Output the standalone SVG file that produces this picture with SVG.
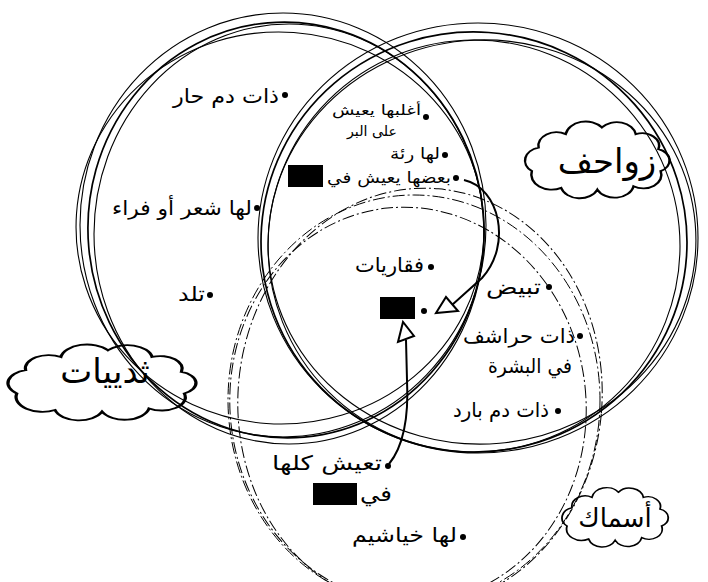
<svg xmlns="http://www.w3.org/2000/svg" width="708" height="582" viewBox="0 0 708 582">
<defs>
<style>
.bg{fill:#fff}
.ring{fill:none;stroke:#000;stroke-width:1.1}
.ring2{fill:none;stroke:#000;stroke-width:1.7}
.fish{fill:none;stroke:#000;stroke-width:1;stroke-dasharray:12 3 2 3}
.cloud{fill:#fff;stroke:#000;stroke-width:2.2;vector-effect:non-scaling-stroke}
.t{font-family:"DejaVu Sans",sans-serif;font-size:20px;fill:#000;text-anchor:end}
.s{font-size:16px}
.xs{font-size:14px}
.big{font-family:"DejaVu Sans",sans-serif;fill:#000;text-anchor:middle}
.dot{fill:#000}
.box{fill:#000}
.conn{fill:none;stroke:#000;stroke-width:2}
.head{fill:#fff;stroke:#000;stroke-width:2;stroke-linejoin:miter}
</style>
<path id="cloudShape" d="M14,62 A16,16 0 0 1 20,34 A16,16 0 0 1 44,18 A18,18 0 0 1 76,10 A17,17 0 0 1 106,18 A15,15 0 0 1 126,36 A14,14 0 0 1 128,62 A16,16 0 0 1 104,80 A17,17 0 0 1 72,84 A17,17 0 0 1 40,82 A18,18 0 0 1 14,62 Z"/>
</defs>
<rect class="bg" x="0" y="0" width="708" height="582"/>

<g id="cloud-mammals">
<use href="#cloudShape" class="cloud" transform="translate(-3.8,342) scale(1.47,0.83)"/>
</g>
<g id="cloud-reptiles">
<use href="#cloudShape" class="cloud" transform="translate(516,119) scale(1.13,0.84)"/>
</g>
<g id="cloud-fish">
<use href="#cloudShape" class="cloud" transform="translate(555.4,485.7) scale(0.83,0.65)"/>
</g>

<g id="set-mammals">
<ellipse class="ring" cx="283" cy="225" rx="203" ry="212"/>
<ellipse class="ring2" cx="286" cy="230" rx="198" ry="208" transform="rotate(-5 286 230)"/>
<ellipse class="ring" cx="280" cy="228" rx="204" ry="196" transform="rotate(4 280 228)"/>
<ellipse class="ring" cx="289" cy="234" rx="195" ry="210"/>
</g>
<g id="set-reptiles">
<ellipse class="ring" cx="478" cy="238" rx="220" ry="215"/>
<ellipse class="ring2" cx="474" cy="242" rx="213" ry="210" transform="rotate(4 474 242)"/>
<ellipse class="ring" cx="482" cy="242" rx="214" ry="202" transform="rotate(-5 482 242)"/>
<ellipse class="ring" cx="474" cy="246" rx="206" ry="206"/>
</g>
<g id="set-fish">
<ellipse class="fish" cx="414" cy="400" rx="186" ry="205"/>
<ellipse class="fish" cx="408" cy="405" rx="178" ry="198" transform="rotate(-6 408 405)"/>
<ellipse class="fish" cx="420" cy="398" rx="182" ry="210" transform="rotate(5 420 398)"/>
</g>

<g id="label-mammals"><text class="big" x="105" y="383" font-size="34">ثدييات</text></g>
<g id="label-reptiles"><text class="big" x="607" y="173" font-size="34">زواحف</text></g>
<g id="label-fish"><text class="big" x="615" y="527" font-size="26">أسماك</text></g>

<g id="item-warm"><circle class="dot" cx="285" cy="95" r="3"/><text class="t" x="279" y="103" textLength="106" lengthAdjust="spacingAndGlyphs">ذات دم حار</text></g>
<g id="item-land"><circle class="dot" cx="426" cy="117" r="3"/><text class="t xs" x="421" y="115" textLength="89" lengthAdjust="spacingAndGlyphs">أغلبها يعيش</text><text class="t xs" x="397" y="136" textLength="50" lengthAdjust="spacingAndGlyphs">على البر</text></g>
<g id="item-lung"><circle class="dot" cx="445" cy="155" r="3"/><text class="t s" x="440" y="159" textLength="50" lengthAdjust="spacingAndGlyphs">لها رئة</text></g>
<g id="item-some"><circle class="dot" cx="456" cy="178" r="3"/><text class="t s" x="451" y="183" textLength="124" lengthAdjust="spacingAndGlyphs">بعضها يعيش في</text><rect class="box" x="288" y="165" width="35" height="22"/></g>
<g id="item-hair"><circle class="dot" cx="257" cy="208" r="3"/><text class="t" x="252" y="215" textLength="140" lengthAdjust="spacingAndGlyphs">لها شعر أو فراء</text></g>
<g id="item-birth"><circle class="dot" cx="210" cy="295" r="3"/><text class="t" x="205" y="301" textLength="27" lengthAdjust="spacingAndGlyphs">تلد</text></g>
<g id="item-vert"><circle class="dot" cx="431" cy="267" r="3"/><text class="t" x="424" y="272" textLength="69" lengthAdjust="spacingAndGlyphs">فقاريات</text></g>
<g id="item-eggs"><circle class="dot" cx="549" cy="287" r="3"/><text class="t" x="541" y="294" textLength="55" lengthAdjust="spacingAndGlyphs">تبيض</text></g>
<g id="item-hidden"><rect class="box" x="380" y="297" width="35" height="22"/><circle class="dot" cx="424" cy="311" r="3"/></g>
<g id="item-scales"><circle class="dot" cx="580" cy="336" r="3"/><text class="t" x="575" y="343" textLength="112" lengthAdjust="spacingAndGlyphs">ذات حراشف</text><text class="t" x="572" y="373" textLength="84" lengthAdjust="spacingAndGlyphs">في البشرة</text></g>
<g id="item-cold"><circle class="dot" cx="558" cy="411" r="3"/><text class="t" x="549" y="417" textLength="96" lengthAdjust="spacingAndGlyphs">ذات دم بارد</text></g>
<g id="item-water"><circle class="dot" cx="388" cy="466" r="3"/><text class="t" x="382" y="470" textLength="110" lengthAdjust="spacingAndGlyphs">تعيش كلها</text><text class="t" x="392" y="501" textLength="32" lengthAdjust="spacingAndGlyphs">في</text><rect class="box" x="313" y="483" width="44" height="22"/></g>
<g id="item-gills"><circle class="dot" cx="463" cy="537" r="3"/><text class="t" x="457" y="542" textLength="105" lengthAdjust="spacingAndGlyphs">لها خياشيم</text></g>

<g id="connectors">
<path class="conn" d="M464,180 C500,188 512,245 482,278 L452,305"/>
<polygon class="head" points="436,313 446,297 458,311"/>
<path class="conn" d="M389,464 C402,448 409,420 407,380 L406,340"/>
<polygon class="head" points="403,322 398,342 414,336"/>
</g>
</svg>
